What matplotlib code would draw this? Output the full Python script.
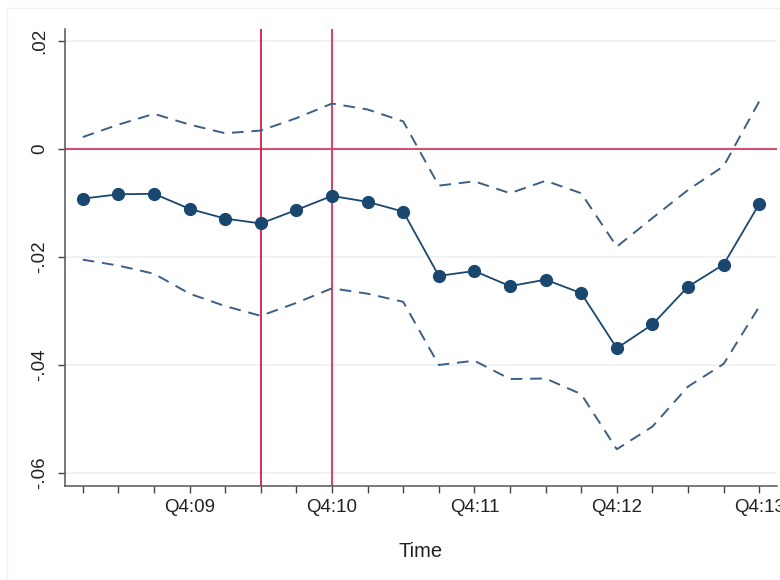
import numpy as np
import matplotlib.pyplot as plt
from matplotlib.lines import Line2D

plt.rcParams['font.family'] = ['Liberation Sans', 'DejaVu Sans']

# quarters Q1:09 .. Q4:13
quarters = ['Q1:09', 'Q2:09', 'Q3:09', 'Q4:09',
            'Q1:10', 'Q2:10', 'Q3:10', 'Q4:10',
            'Q1:11', 'Q2:11', 'Q3:11', 'Q4:11',
            'Q1:12', 'Q2:12', 'Q3:12', 'Q4:12',
            'Q1:13', 'Q2:13', 'Q3:13', 'Q4:13']

coef = [-0.0092, -0.0084, -0.0083, -0.0111, -0.0129, -0.0138, -0.0113, -0.0087,
        -0.0098, -0.0116, -0.0235, -0.0226, -0.0254, -0.0242, -0.0267, -0.0369,
        -0.0325, -0.0255, -0.0214, -0.0102]

ci_hi = [0.0022, 0.0045, 0.0065, 0.0045, 0.0029, 0.0034, 0.0057, 0.0084,
         0.0073, 0.0051, -0.0068, -0.0060, -0.0082, -0.0059, -0.0082, -0.0181,
         -0.0128, -0.0076, -0.0032, 0.0088]

ci_lo = [-0.0205, -0.0216, -0.0231, -0.0268, -0.0291, -0.0309, -0.0285, -0.0258,
         -0.0268, -0.0283, -0.0400, -0.0392, -0.0426, -0.0425, -0.0454, -0.0556,
         -0.0514, -0.0440, -0.0398, -0.0292]

yticks = [0.02, 0, -0.02, -0.04, -0.06]
yticklabels = ['.02', '0', '-.02', '-.04', '-.06']
events = ['Q2:10', 'Q4:10']

x = np.arange(len(quarters))
navy = '#1a476f'
ci_col = '#3b5f85'

fig = plt.figure(figsize=(7.8, 5.8), dpi=100)
ax = fig.add_axes([65/780, 94/580, 712/780, 457/580])

for yv in yticks:
    ax.axhline(yv, color='#edf3f5', lw=1.3, zorder=0)

ax.plot(x, ci_hi, color=ci_col, lw=1.4, dashes=(6, 4), zorder=2)
ax.plot(x, ci_lo, color=ci_col, lw=1.4, dashes=(6, 4), zorder=2)
ax.plot(x, coef, color=navy, lw=1.3, marker='o', ms=8.5, zorder=3)

ax.axhline(0, color='#d64f6f', lw=1.5, zorder=1)
ax.axvline(quarters.index(events[0]), color='#d71d45', lw=1.3, zorder=1)
ax.axvline(quarters.index(events[1]), color='#d8476a', lw=1.5, zorder=1)

ax.set_xlim(-0.5, 19.5)
ax.set_ylim(-0.0624, 0.0222)

ax.set_xticks(x)
ax.set_xticklabels([q if q.startswith('Q4') else '' for q in quarters])
ax.set_yticks(yticks)
ax.set_yticklabels(yticklabels, rotation=90, va='center')

ax.tick_params(axis='both', direction='out', length=5, width=1.0,
               color='#444444', labelsize=13.5, labelcolor='#222222')
ax.tick_params(axis='y', pad=7)
ax.tick_params(axis='x', pad=4)

for s in ['top', 'right']:
    ax.spines[s].set_visible(False)
for s in ['left', 'bottom']:
    ax.spines[s].set_color('#555555')
    ax.spines[s].set_linewidth(1.1)

ax.set_xlabel('Time', fontsize=14.5, color='#222222', labelpad=19)

# faint outer frame of the graph region
fig.add_artist(Line2D([7/780, 7/780], [0, 1 - 8/580], transform=fig.transFigure,
                      color='#f0f0f0', lw=1))
fig.add_artist(Line2D([7/780, 1], [1 - 8/580, 1 - 8/580], transform=fig.transFigure,
                      color='#f0f0f0', lw=1))

fig.savefig('out.png', dpi=100)
